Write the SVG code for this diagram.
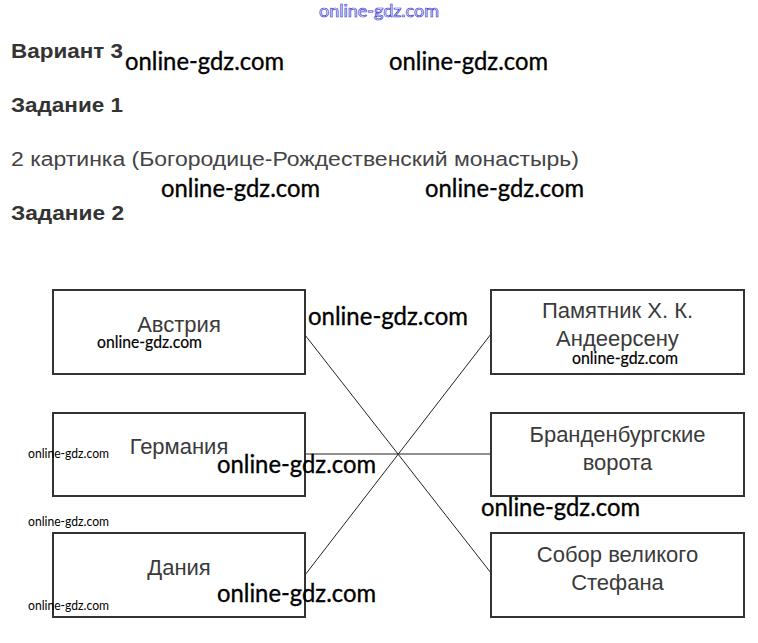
<svg xmlns="http://www.w3.org/2000/svg" width="758" height="643" viewBox="0 0 758 643">
<style>
.h{font-family:"Liberation Sans",Arial,sans-serif;font-weight:bold;font-size:20px;fill:#333}
.p{font-family:"Liberation Sans",Arial,sans-serif;font-size:20px;fill:#444}
.box{fill:#fff;stroke:#333;stroke-width:2}
.t{font-family:"Liberation Sans",Arial,sans-serif;font-size:22px;fill:#3a3a3a;text-anchor:middle}
.w{font-family:Lato,"Open Sans",sans-serif;font-size:25px;fill:#000;stroke:#000;stroke-width:0.35}
.ws{font-family:Lato,"Open Sans",sans-serif;font-size:13px;fill:#000}
.wm{font-family:Lato,"Open Sans",sans-serif;font-size:17px;fill:#000;stroke:#000;stroke-width:0.2}
.con{stroke:#222;stroke-width:1;fill:none}
</style>
<rect width="758" height="643" fill="#fff"/>
<text x="319" y="17" font-family="Lato,'Open Sans',sans-serif" font-size="17" fill="#fff" stroke="#3a3ad0" stroke-width="0.7" textLength="120" lengthAdjust="spacingAndGlyphs">online-gdz.com</text>
<text class="h" x="11" y="58" textLength="112" lengthAdjust="spacingAndGlyphs">Вариант 3</text>
<text class="h" x="11" y="112" textLength="112" lengthAdjust="spacingAndGlyphs">Задание 1</text>
<text class="p" x="11" y="166" textLength="568" lengthAdjust="spacingAndGlyphs">2 картинка (Богородице-Рождественский монастырь)</text>
<text class="h" x="11" y="220" textLength="113" lengthAdjust="spacingAndGlyphs">Задание 2</text>
<g id="connectors">
<line class="con" x1="305" y1="335" x2="491" y2="573"/>
<line class="con" x1="305" y1="454" x2="491" y2="454"/>
<line class="con" x1="305" y1="575" x2="491" y2="334"/>
</g>
<g id="node-austria"><rect class="box" x="53" y="290" width="252" height="84"/><text class="t" x="179" y="332">Австрия</text></g>
<g id="node-germany"><rect class="box" x="53" y="413" width="252" height="83"/><text class="t" x="179" y="454">Германия</text></g>
<g id="node-denmark"><rect class="box" x="53" y="533" width="252" height="84"/><text class="t" x="179" y="575">Дания</text></g>
<g id="node-andersen"><rect class="box" x="491" y="290" width="253" height="84"/><text class="t" x="617.5" y="318">Памятник Х. К.</text><text class="t" x="617.5" y="346">Андеерсену</text></g>
<g id="node-brandenburg"><rect class="box" x="491" y="413" width="253" height="83"/><text class="t" x="617.5" y="442">Бранденбургские</text><text class="t" x="617.5" y="470">ворота</text></g>
<g id="node-stefan"><rect class="box" x="491" y="533" width="253" height="84"/><text class="t" x="617.5" y="562">Собор великого</text><text class="t" x="617.5" y="590">Стефана</text></g>
<g id="watermarks">
<text class="w" x="125" y="70" textLength="159" lengthAdjust="spacingAndGlyphs">online-gdz.com</text>
<text class="w" x="389" y="70" textLength="159" lengthAdjust="spacingAndGlyphs">online-gdz.com</text>
<text class="w" x="161" y="197" textLength="159" lengthAdjust="spacingAndGlyphs">online-gdz.com</text>
<text class="w" x="425" y="197" textLength="159" lengthAdjust="spacingAndGlyphs">online-gdz.com</text>
<text class="w" x="308" y="325" textLength="160" lengthAdjust="spacingAndGlyphs">online-gdz.com</text>
<text class="w" x="217" y="473" textLength="159" lengthAdjust="spacingAndGlyphs">online-gdz.com</text>
<text class="w" x="217" y="602" textLength="159" lengthAdjust="spacingAndGlyphs">online-gdz.com</text>
<text class="w" x="481" y="516" textLength="159" lengthAdjust="spacingAndGlyphs">online-gdz.com</text>
<text class="wm" x="97" y="348" textLength="105" lengthAdjust="spacingAndGlyphs">online-gdz.com</text>
<text class="wm" x="572" y="364" textLength="106" lengthAdjust="spacingAndGlyphs">online-gdz.com</text>
<text class="ws" x="28" y="458" textLength="81" lengthAdjust="spacingAndGlyphs">online-gdz.com</text>
<text class="ws" x="28" y="526" textLength="81" lengthAdjust="spacingAndGlyphs">online-gdz.com</text>
<text class="ws" x="28" y="610" textLength="81" lengthAdjust="spacingAndGlyphs">online-gdz.com</text>
</g>
</svg>
